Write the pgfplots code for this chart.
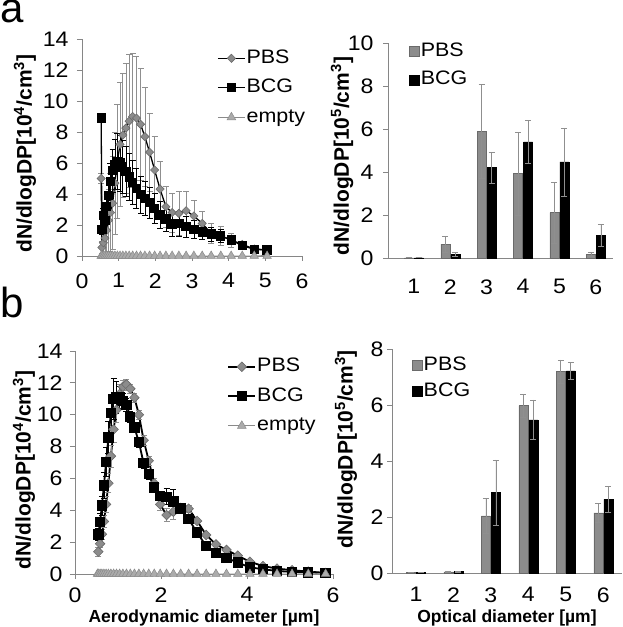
\documentclass[border=0pt]{standalone}
\usepackage{fontspec}
\setmainfont{Liberation Sans}
\newfontfamily\wide{Liberation Sans}[FakeStretch=1.1]
\usepackage{pgfplots}
\usepackage{pgfplotstable}
\pgfplotsset{compat=1.18}
\definecolor{axgray}{HTML}{868686}
\definecolor{pbsfill}{HTML}{8C8C8C}
\definecolor{pbsdraw}{HTML}{6A6A6A}
\definecolor{emfill}{HTML}{ABABAB}
\definecolor{emdraw}{HTML}{8A8A8A}
\definecolor{errgray}{HTML}{8F8F8F}

\pgfplotstableread{
x y e
0.523 5.00 0.3
0.542 0.55 0.4
0.583 0.85 0.7
0.626 1.15 1.0
0.673 1.65 1.5
0.723 2.30 2.0
0.777 2.80 2.5
0.835 3.40 3.0
0.898 4.70 3.3
0.965 6.10 3.7
1.037 7.20 4.0
1.114 7.80 4.0
1.197 8.25 4.2
1.286 8.70 4.3
1.382 9.00 4.1
1.486 8.90 4.0
1.596 8.50 3.6
1.715 7.70 3.2
1.843 6.70 2.5
1.981 5.55 2.2
2.129 4.32 1.8
2.288 3.18 1.3
2.458 2.80 1.25
2.642 2.75 1.4
2.839 2.92 1.25
3.051 2.58 1.0
3.278 2.10 0.75
3.523 1.46 0.65
3.786 1.31 0.6
4.068 1.03 0.45
4.371 0.75 0.2
4.698 0.45 0.1
5.048 0.39 0.05
}\tlpbs

\pgfplotstableread{
x y e
0.523 8.90 0.0
0.542 1.70 0.3
0.583 2.60 0.5
0.626 2.30 0.6
0.673 3.20 0.8
0.723 3.90 1.0
0.777 4.80 1.2
0.835 5.50 1.4
0.898 5.90 1.6
0.965 6.10 1.8
1.037 6.00 1.8
1.114 5.75 1.7
1.197 5.45 1.6
1.286 5.10 1.5
1.382 4.75 1.4
1.486 4.35 1.3
1.596 3.95 1.2
1.715 3.70 1.1
1.843 3.45 1.0
1.981 3.08 0.95
2.129 2.65 0.85
2.288 2.39 0.8
2.458 2.06 0.8
2.642 2.08 0.8
2.839 1.89 0.7
3.051 1.72 0.6
3.278 1.55 0.5
3.523 1.42 0.45
3.786 1.29 0.4
4.068 1.03 0.3
4.371 0.67 0.25
4.698 0.43 0.1
5.048 0.39 0.05
}\tlbcg

\pgfplotstableread{
x y
0.523 0
0.542 0
0.583 0
0.626 0
0.673 0
0.723 0
0.777 0
0.835 0
0.898 0
0.965 0
1.037 0
1.114 0
1.197 0
1.286 0
1.382 0
1.486 0
1.596 0
1.715 0
1.843 0
1.981 0
2.129 0
2.288 0
2.458 0
2.642 0
2.839 0
3.051 0
3.278 0
3.523 0
3.786 0
4.068 0
4.371 0
4.698 0
5.048 0
}\tlempty

\pgfplotstableread{
x y e
0.542 1.40 0.3
0.583 1.90 0.2
0.626 2.50 0.3
0.673 3.30 0.4
0.723 4.37 0.5
0.777 5.70 0.6
0.835 7.40 0.7
0.898 9.08 0.8
0.965 10.30 0.8
1.037 11.30 0.6
1.114 11.76 0.4
1.197 11.90 0.35
1.286 11.63 0.3
1.382 11.07 0.3
1.486 10.00 0.3
1.596 8.40 0.3
1.715 7.11 0.3
1.843 5.69 0.3
1.981 4.37 0.4
2.129 3.70 0.4
2.288 3.91 0.45
2.458 4.15 0.3
2.642 4.10 0.2
2.839 3.33 0.15
3.051 2.45 0.1
3.278 1.86 0.1
3.523 1.51 0.1
3.786 1.15 0.1
4.068 0.77 0.05
4.371 0.50 0.05
4.698 0.34 0.05
5.048 0.24 0.05
5.425 0.15 0.03
5.829 0.07 0.02
}\blpbs

\pgfplotstableread{
x y e
0.542 2.49 0.4
0.583 3.28 0.5
0.626 4.29 0.6
0.673 5.56 0.8
0.723 7.03 0.9
0.777 8.58 1.0
0.835 10.10 1.1
0.898 11.00 1.3
0.965 11.10 1.0
1.037 11.07 0.7
1.114 10.86 0.5
1.197 10.60 0.4
1.286 9.87 0.35
1.382 9.20 0.3
1.486 8.28 0.3
1.596 6.95 0.3
1.715 6.26 0.3
1.843 5.42 0.3
1.981 4.90 0.3
2.129 4.85 0.5
2.288 4.54 0.8
2.458 4.12 0.3
2.642 3.45 0.15
2.839 2.60 0.15
3.051 1.76 0.1
3.278 1.30 0.1
3.523 1.02 0.1
3.786 0.71 0.05
4.068 0.42 0.05
4.371 0.30 0.05
4.698 0.19 0.03
5.048 0.13 0.03
5.425 0.10 0.02
5.829 0.07 0.02
}\blbcg

\pgfplotstableread{
x y
0.523 0
0.542 0
0.583 0
0.626 0
0.673 0
0.723 0
0.777 0
0.835 0
0.898 0
0.965 0
1.037 0
1.114 0
1.197 0
1.286 0
1.382 0
1.486 0
1.596 0
1.715 0
1.843 0
1.981 0
2.129 0
2.288 0
2.458 0
2.642 0
2.839 0
3.051 0
3.278 0
3.523 0
3.786 0
4.068 0
4.371 0
4.698 0
5.048 0
5.425 0
5.829 0
}\blempty

\pgfplotstableread{
x y e
1 0.01 0
2 0.64 0.38
3 5.89 2.2
4 3.92 1.94
5 2.11 1.42
6 0.17 0.11
}\trpbs
\pgfplotstableread{
x y e
1 0.01 0
2 0.155 0.09
3 4.20 0.73
4 5.40 1.0
5 4.47 1.58
6 1.05 0.53
}\trbcg
\pgfplotstableread{
x y e
1 0.01 0
2 0.04 0.01
3 2.04 0.62
4 5.98 0.41
5 7.20 0.41
6 2.15 0.33
}\brpbs
\pgfplotstableread{
x y e
1 0.01 0
2 0.05 0.01
3 2.87 1.17
4 5.47 0.71
5 7.22 0.31
6 2.63 0.46
}\brbcg

\pgfplotsset{
  base/.style={
    scale only axis, clip=false,
    axis x line*=bottom, axis y line*=left,
    axis line style={draw=axgray, line width=0.9pt},
    tick style={draw=axgray, line width=0.9pt},
    tick align=outside, major tick length=5pt,
    tick label style={font=\wide\fontsize{21}{24}\selectfont},
    /pgf/number format/assume math mode=true,
    ymin=0,
  },
  ticksh/.style 2 args={xticklabel style={yshift=#1}, yticklabel style={xshift=#2}},
  ylab/.style 2 args={every axis y label/.style={at={(axis description cs:#1,#2)}, rotate=90, anchor=center,
     font=\bfseries\fontsize{21}{24}\selectfont}},
  xlab/.style={every axis x label/.style={at={(axis description cs:0.5,0)}, yshift=-#1, anchor=center,
     font=\bfseries\fontsize{17.5}{20}\selectfont}},
  leg/.style n args={3}{legend style={at={(axis description cs:#1,#2)}, anchor=north west, draw=none, fill=none,
    font=\wide\fontsize{19.5}{22}\selectfont, inner sep=0pt, row sep=#3,
    nodes={inner sep=1pt, text height=14pt, text depth=4pt}}},
  linechart/.style={
    base,
    legend cell align=left,
    legend image code/.code={\draw[mark repeat=2,mark phase=2,##1] plot coordinates {(0pt,0pt) (13.5pt,0pt) (27pt,0pt)};},
  },
  barchart/.style={
    base,
    ybar=1pt, bar width=9pt,
    xtick={1,2,3,4,5,6},
    x tick style={draw=none},
    legend cell align=left,
    legend image code/.code={\draw[##1] (0pt,-5pt) rectangle (10pt,5pt);},
  },
  pbsline/.style={black, line width=1.3pt, mark=square*, mark size=2.9pt,
    mark options={rotate=45, fill=pbsfill, draw=pbsdraw, line width=0.6pt}},
  bcgline/.style={black, line width=1.3pt, mark=square*, mark size=4pt,
    mark options={fill=black, draw=black}},
  emptyline/.style={emdraw, line width=1pt, mark=triangle*, mark size=5pt,
    mark options={fill=emfill, draw=emdraw, line width=0.5pt}},
  errs/.style={error bars/.cd, y dir=both, y explicit,
    error bar style={color=#1, line width=0.7pt},
    error mark options={rotate=90, mark size=3pt, color=#1, line width=0.7pt}},
}

\begin{document}
\begin{tikzpicture}
\useasboundingbox (0pt,0pt) rectangle (622pt,627pt);
\node[anchor=base west, inner sep=0pt, font=\fontsize{42}{42}\selectfont] at (0pt,604pt) {a};
\node[anchor=base west, inner sep=0pt, font=\fontsize{42}{42}\selectfont] at (0pt,309pt) {b};

% top left
\begin{axis}[linechart, at={(82pt,371pt)}, anchor=south west, width=220pt, height=217pt,
  xmin=0, xmax=6, ymax=14, xtick={0,1,...,6}, ytick={0,2,...,14}, ticksh={-9pt}{-5pt},
  ylabel={dN/dlogDP[10\textsuperscript{4}/cm\textsuperscript{3}]}, ylab={-0.259}{0.472},
  leg={0.614}{0.958}{9.5pt},
]
\addplot[pbsline, errs=errgray] table[x=x, y=y, y error=e] {\tlpbs};
\addlegendentry{PBS}
\addplot[bcgline, errs=black] table[x=x, y=y, y error=e] {\tlbcg};
\addlegendentry{BCG}
\addplot[emptyline] table[x=x, y=y] {\tlempty};
\addlegendentry{empty}
\end{axis}

% top right
\begin{axis}[barchart, at={(388pt,369pt)}, anchor=south west, width=225pt, height=215pt,
  xmin=0.29, xmax=6.47, ymax=10, ytick={0,2,...,10}, ticksh={-13pt}{-6pt},
  ylabel={dN/dlogDP[10\textsuperscript{5}/cm\textsuperscript{3}]}, ylab={-0.204}{0.474},
  leg={0.094}{1.009}{8.5pt},
]
\addplot[fill=pbsfill, draw=pbsdraw, line width=0.5pt, errs=errgray] table[x=x, y=y, y error=e] {\trpbs};
\addlegendentry{PBS}
\addplot[fill=black, draw=black, line width=0.5pt, errs=errgray] table[x=x, y=y, y error=e] {\trbcg};
\addlegendentry{BCG}
\end{axis}

% bottom left
\begin{axis}[linechart, at={(75pt,53pt)}, anchor=south west, width=258pt, height=223pt,
  xmin=0, xmax=6, ymax=14, xtick={0,2,4,6}, ytick={0,2,...,14}, ticksh={-5pt}{-4pt},
  ylabel={dN/dlogDP[10\textsuperscript{4}/cm\textsuperscript{3}]}, ylab={-0.198}{0.466},
  xlabel={Aerodynamic diameter [µm]}, xlab=44pt,
  leg={0.59}{0.975}{9.5pt},
]
\addplot[pbsline, line width=1.8pt, mark size=3.4pt, errs=errgray] table[x=x, y=y, y error=e] {\blpbs};
\addlegendentry{PBS}
\addplot[bcgline, line width=1.8pt, mark size=4.3pt, errs=black] table[x=x, y=y, y error=e] {\blbcg};
\addlegendentry{BCG}
\addplot[emptyline] table[x=x, y=y] {\blempty};
\addlegendentry{empty}
\end{axis}

% bottom right
\begin{axis}[barchart, at={(392pt,54pt)}, anchor=south west, width=230pt, height=224pt,
  xmin=0.36, xmax=6.5, ymax=8, ytick={0,2,...,8}, ticksh={-6pt}{0pt},
  ylabel={dN/dlogDP[10\textsuperscript{5}/cm\textsuperscript{3}]}, ylab={-0.2}{0.553},
  xlabel={Optical diameter [µm]}, xlab=45pt,
  leg={0.087}{0.973}{6pt},
]
\addplot[fill=pbsfill, draw=pbsdraw, line width=0.5pt, errs=errgray] table[x=x, y=y, y error=e] {\brpbs};
\addlegendentry{PBS}
\addplot[fill=black, draw=black, line width=0.5pt, errs=errgray] table[x=x, y=y, y error=e] {\brbcg};
\addlegendentry{BCG}
\end{axis}
\end{tikzpicture}
\end{document}
